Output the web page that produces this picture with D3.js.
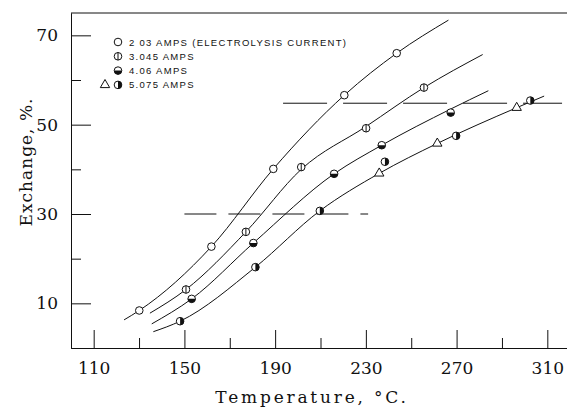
<!DOCTYPE html>
<html>
<head>
<meta charset="utf-8">
<script src="https://cdn.jsdelivr.net/npm/d3@7"></script>
<style>
  body { margin: 0; background: #fff; }
  svg { display: block; }
  .axis text { font-family: 'DejaVu Serif', serif; font-size: 17px; fill: #111; }
  .axis path, .axis line { stroke: #111; stroke-width: 1; }
  .title { font-family: 'DejaVu Serif', serif; font-size: 17px; fill: #111; }
  .legend text { font-family: 'Liberation Sans', sans-serif; font-size: 9.5px; letter-spacing: 1.3px; fill: #111; }
  .curve { fill: none; stroke: #111; stroke-width: 1; }
  .mark { stroke: #111; stroke-width: 1; }
</style>
</head>
<body>
<div class="container"></div>
<script>
// measured points (temperature °C, exchange %)
const temps203 = [130.1, 161.9, 189.2, 220.5, 243.6];
const exch203 = [8.4, 22.7, 40.1, 56.6, 66.0];
const temps3045 = [150.7, 177.1, 201.5, 230.1, 255.6];
const exch3045 = [13.1, 26.0, 40.5, 49.2, 58.3];
const temps406 = [153.2, 180.4, 216.0, 237.0, 267.4];
const exch406 = [11.0, 23.5, 39.0, 45.4, 52.7];
const temps5075 = [148.1, 181.3, 209.7, 238.4, 269.8, 302.5];
const exch5075 = [6.0, 18.1, 30.7, 41.7, 47.5, 55.4];
const temps5075Tri = [235.9, 261.5, 296.5];
const exch5075Tri = [39.1, 45.8, 53.8];

// hand drawn curves
const curveTemps203 = [123.4, 130.1, 161.9, 189.2, 220.5, 243.6, 266.4];
const curveExch203 = [6.3, 8.4, 22.7, 40.1, 56.6, 66.0, 73.4];
const curveTemps3045 = [134.8, 150.7, 177.1, 201.5, 230.1, 255.6, 281.5];
const curveExch3045 = [7.8, 13.1, 26.0, 40.0, 49.6, 58.3, 65.7];
const curveTemps406 = [135.6, 153.2, 180.4, 216.0, 237.0, 267.4, 284.0];
const curveExch406 = [5.4, 11.0, 23.5, 39.0, 45.4, 53.5, 57.6];
const curveTemps5075 = [136.3, 148.1, 181.3, 209.7, 235.9, 261.5, 296.5, 308.6];
const curveExch5075 = [3.65, 6.0, 18.1, 30.7, 39.1, 45.8, 53.8, 56.4];

// dashed reference lines
const refValues = [30, 54.8];
const refFrom = [150, 193.5];
const refTo = [231, 316.5];

const xMajor = [110, 150, 190, 230, 270, 310];
const xMinor = [130, 170, 210, 250, 290];
const yMajor = [10, 30, 50, 70];
const yMinor = [20, 40, 60];

const legendLabels = ['2 03 AMPS (ELECTROLYSIS CURRENT)', '3.045 AMPS', '4.06 AMPS', '5.075 AMPS'];
const legendTypes = ['open', 'vbar', 'bottom', 'right'];

const width = 567;
const height = 407;
const margin = { top: 13, right: -3, bottom: 59, left: 71 };

const svg = d3
  .select('.container')
  .append('svg')
  .attr('width', width)
  .attr('height', height);

const x = d3.scaleLinear().domain([100, 320]).range([margin.left, width - margin.right]);
const y = d3.scaleLinear().domain([0, 75]).range([height - margin.bottom, margin.top]);

const zip = (a, b) => a.map((v, i) => [v, b[i]]);

// axes
svg
  .append('g')
  .attr('class', 'axis')
  .attr('transform', `translate(0, ${y(0)})`)
  .call(d3.axisBottom(x).tickValues(xMajor).tickSize(-18).tickSizeOuter(0).tickPadding(14).tickFormat(d3.format('d')));

svg
  .append('g')
  .attr('class', 'axis')
  .attr('transform', `translate(0, ${y(0)})`)
  .call(d3.axisBottom(x).tickValues(xMinor).tickSize(-10).tickSizeOuter(0).tickFormat(''));

svg
  .append('g')
  .attr('class', 'axis')
  .attr('transform', `translate(${x(100)}, 0)`)
  .call(d3.axisLeft(y).tickValues(yMajor).tickSize(-20).tickSizeOuter(0).tickPadding(13).tickFormat(d3.format('d')));

svg
  .append('g')
  .attr('class', 'axis')
  .attr('transform', `translate(${x(100)}, 0)`)
  .call(d3.axisLeft(y).tickValues(yMinor).tickSize(-10).tickSizeOuter(0).tickFormat(''));

// top frame line
svg
  .append('line')
  .attr('x1', x(100))
  .attr('x2', width)
  .attr('y1', y(75))
  .attr('y2', y(75))
  .attr('stroke', '#111');

svg
  .append('text')
  .attr('class', 'title')
  .attr('x', 312)
  .attr('y', 403)
  .attr('text-anchor', 'middle')
  .style('letter-spacing', '2.8px')
  .text('Temperature, °C.');

svg
  .append('text')
  .attr('class', 'title')
  .attr('transform', 'translate(32, 162) rotate(-90)')
  .attr('text-anchor', 'middle')
  .style('letter-spacing', '1px')
  .text('Exchange, %.');

// dashed lines
svg
  .selectAll('.ref')
  .data(refValues)
  .enter()
  .append('line')
  .attr('class', 'ref')
  .attr('x1', (d, i) => x(refFrom[i]))
  .attr('x2', (d, i) => x(refTo[i]))
  .attr('y1', d => y(d))
  .attr('y2', d => y(d))
  .attr('stroke', '#111')
  .attr('stroke-dasharray', (d, i) => (i === 0 ? '32,12' : '44,16'));

// curves
const line = d3
  .line()
  .x(d => x(d[0]))
  .y(d => y(d[1]))
  .curve(d3.curveMonotoneX);

const curves = [
  zip(curveTemps203, curveExch203),
  zip(curveTemps3045, curveExch3045),
  zip(curveTemps406, curveExch406),
  zip(curveTemps5075, curveExch5075)
];

svg
  .selectAll('.curve')
  .data(curves)
  .enter()
  .append('path')
  .attr('class', 'curve')
  .attr('d', line);

// markers
const r = 3.8;

const drawMarker = (g, type, cx, cy) => {
  if (type === 'tri') {
    g.append('path')
      .attr('class', 'mark')
      .attr('d', d3.symbol().type(d3.symbolTriangle).size(38)())
      .attr('transform', `translate(${cx}, ${cy})`)
      .attr('fill', '#fff');
    return;
  }
  g.append('circle')
    .attr('class', 'mark')
    .attr('cx', cx)
    .attr('cy', cy)
    .attr('r', r)
    .attr('fill', '#fff');
  if (type === 'vbar') {
    g.append('line')
      .attr('class', 'mark')
      .attr('x1', cx)
      .attr('x2', cx)
      .attr('y1', cy - r)
      .attr('y2', cy + r);
  }
  if (type === 'bottom') {
    g.append('path')
      .attr('d', `M${cx - r},${cy} A${r},${r} 0 0 0 ${cx + r},${cy} Z`)
      .attr('fill', '#111');
  }
  if (type === 'right') {
    g.append('path')
      .attr('d', `M${cx},${cy - r} A${r},${r} 0 0 1 ${cx},${cy + r} Z`)
      .attr('fill', '#111');
  }
};

const points = svg.append('g').attr('class', 'points');

const series = [
  { t: temps203, v: exch203, type: 'open' },
  { t: temps3045, v: exch3045, type: 'vbar' },
  { t: temps406, v: exch406, type: 'bottom' },
  { t: temps5075, v: exch5075, type: 'right' },
  { t: temps5075Tri, v: exch5075Tri, type: 'tri' }
];

series.forEach(s => {
  s.t.forEach((t, i) => drawMarker(points, s.type, x(t), y(s.v[i])));
});

// legend
const legend = svg.append('g').attr('class', 'legend');

legendLabels.forEach((label, i) => {
  const ly = 42 + i * 14.3;
  drawMarker(legend, legendTypes[i], 118, ly);
  legend
    .append('text')
    .attr('x', 129)
    .attr('y', ly + 3.5)
    .text(label);
});

drawMarker(legend, 'tri', 105, 42 + 3 * 14.3);
</script>
</body>
</html>
